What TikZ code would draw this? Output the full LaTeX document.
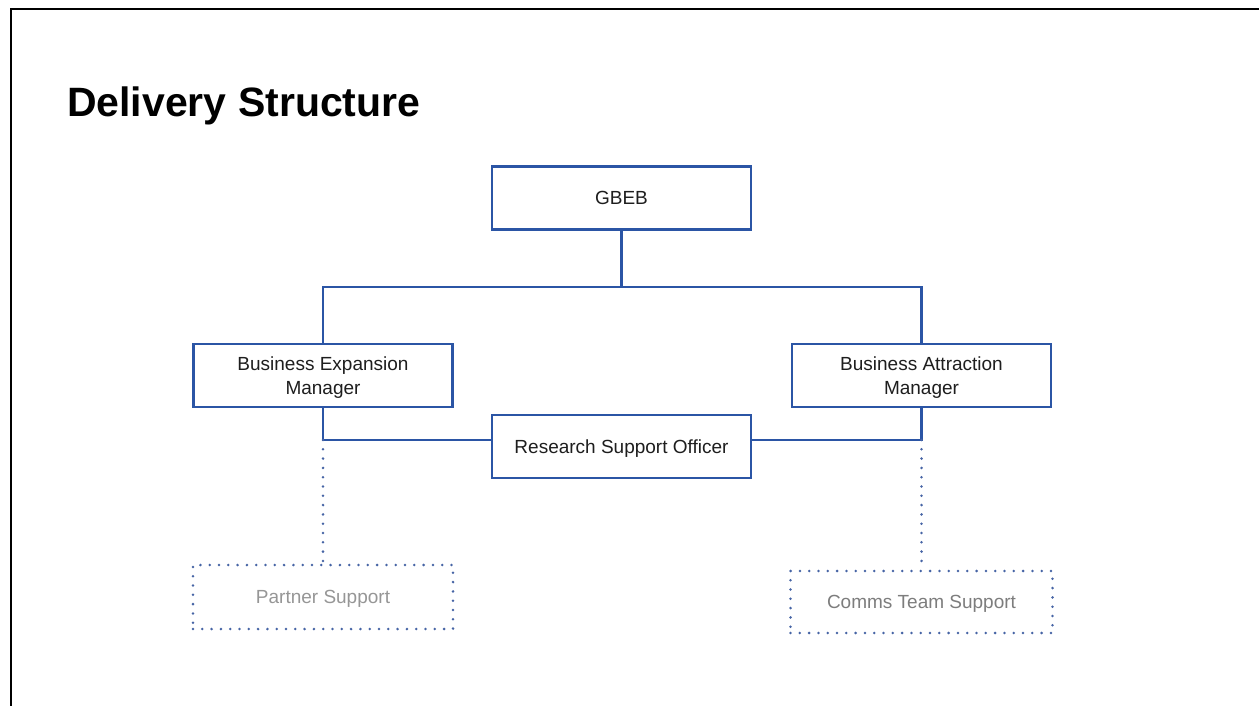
\documentclass[tikz,border=0pt]{standalone}
\usepackage{fontspec}
\setmainfont{Liberation Sans}
\definecolor{boxblue}{RGB}{43,85,165}
\definecolor{dotblue}{RGB}{70,100,165}
\definecolor{txt}{RGB}{30,30,30}
\definecolor{lightgray}{RGB}{150,150,150}
\definecolor{midgray}{RGB}{125,125,125}
\begin{document}
\begin{tikzpicture}[x=1pt,y=-1pt,
  rolebox/.style={draw=boxblue,line width=2.5pt,line join=miter,fill=white,
    minimum width=259pt,minimum height=63pt,inner sep=0pt,align=center,
    text=txt,font=\fontsize{19}{24}\selectfont},
  oneline/.style={text height=13.7pt,text depth=-4pt},
  twoline/.style={text depth=-4pt},
  supportbox/.style={draw=dotblue,line width=2.8pt,line cap=round,
    dash pattern=on 0pt off 9.3pt,
    minimum width=260pt,minimum height=64pt,inner sep=0pt,align=center,
    text height=13.7pt,text depth=-10pt,
    font=\fontsize{19}{24}\selectfont},
  conn/.style={draw=boxblue,line width=2.5pt,line join=miter},
  dotconn/.style={draw=dotblue,line width=2.8pt,line cap=round,dash pattern=on 0pt off 9.3pt},
  frame/.style={draw=black,line width=2pt}
]
\useasboundingbox (0,0) rectangle (1259,706);
\fill[white] (0,0) rectangle (1259,706);
% frame
\coordinate (fa) at (11,706);
\coordinate (fb) at (11,9);
\coordinate (fc) at (1259,9);
\draw[frame] (fa) -- (fb) -- (fc);
% title
\node[anchor=base west,inner sep=0pt,font=\fontsize{41}{48}\selectfont\bfseries] (title) at (67,117) {Delivery Structure};
% junctions
\coordinate (top) at (621.5,287);
\coordinate (jl) at (323,440);
\coordinate (jr) at (921.5,440);
% boxes
\node[rolebox,oneline] (gbeb) at (621.5,198) {GBEB};
\node[rolebox,twoline] (bem) at (323,375.5) {Business Expansion\\Manager};
\node[rolebox,twoline] (bam) at (921.5,375.5) {Business Attraction\\Manager};
\node[rolebox,oneline] (rso) at (621.5,446.5) {Research Support Officer};
\node[supportbox,text=lightgray] (ps) at (323,597) {Partner Support};
\node[supportbox,text=midgray,minimum width=262pt,minimum height=62pt] (cts) at (921.5,602) {Comms Team Support};
% connectors
\draw[conn] (gbeb.south) -- (top);
\draw[conn] (top) -| (bem.north);
\draw[conn] (top) -| (bam.north);
\draw[conn] (bem.south) -- (jl) -- (jl -| rso.west);
\draw[conn] (bam.south) -- (jr) -- (jr -| rso.east);
\draw[dotconn] (jl) -- (ps.north);
\draw[dotconn] (jr) -- (cts.north);
\end{tikzpicture}
\end{document}
